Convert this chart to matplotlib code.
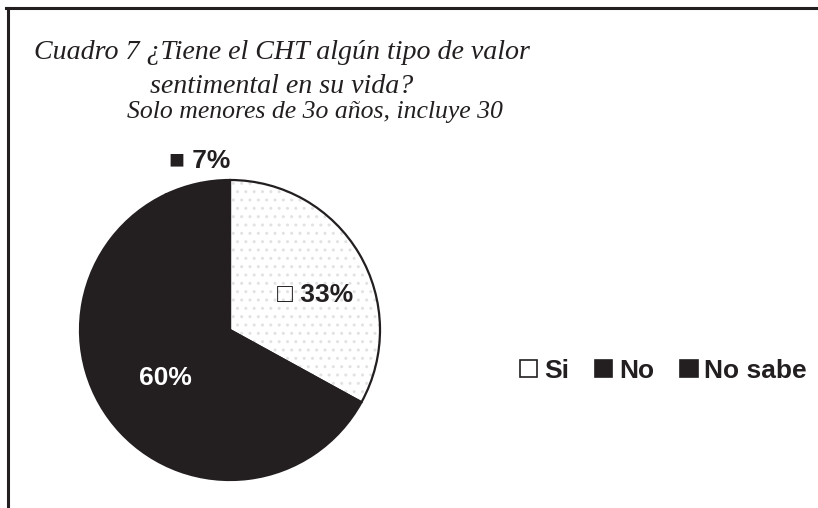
import matplotlib
matplotlib.use("Agg")
import matplotlib.pyplot as plt
from matplotlib.lines import Line2D

# data
categories = ['Si', 'No', 'No sabe']
values = [33, 60, 7]
labels = ['\u25a1 33%', '60%', '\u25a0 7%']
colors = ['white', '#231f20', '#231f20']

title1 = 'Cuadro 7 \u00bfTiene el CHT alg\u00fan tipo de valor'
title2 = 'sentimental en su vida?'
subtitle = 'Solo menores de 3o a\u00f1os, incluye 30'

W, H = 818, 508
fig = plt.figure(figsize=(W / 100, H / 100), dpi=100)
fig.patch.set_facecolor('white')

# pie axes: centre (230, 330) px, radius 150 px
cx, cy, r = 230, 330, 150
ax = fig.add_axes([(cx - r) / W, (H - cy - r) / H, 2 * r / W, 2 * r / H])

# speckled fill for "Si" wedge, then outlines on top
wedges, _ = ax.pie(values, colors=colors, startangle=90, counterclock=False,
                   wedgeprops=dict(linewidth=0, edgecolor='#e2e2e2'))
wedges[0].set_hatch('..')
wedges[0].set_linewidth(0)
outline, _ = ax.pie(values, colors=['none'] * 3, startangle=90, counterclock=False,
                    wedgeprops=dict(linewidth=1.6, edgecolor='#231f20'))
ax.set_xlim(-1, 1)
ax.set_ylim(-1, 1)
ax.set_aspect('equal')
ax.axis('off')

lab_font = ['Liberation Sans', 'DejaVu Sans']
ax.text(0.57, 0.23, labels[0], ha='center', va='center', fontsize=19,
        fontweight='bold', color='#231f20', family=lab_font)
ax.text(-0.43, -0.32, labels[1], ha='center', va='center', fontsize=19,
        fontweight='bold', color='white', family=lab_font)
ax.text(-0.2, 1.13, labels[2], ha='center', va='center', fontsize=19,
        fontweight='bold', color='#231f20', family=lab_font)

# titles
fig.text(282 / W, 1 - 59 / H, title1, ha='center', va='baseline', fontsize=20.2,
         style='italic', family='Liberation Serif', color='#231f20')
fig.text(282 / W, 1 - 93 / H, title2, ha='center', va='baseline', fontsize=20.2,
         style='italic', family='Liberation Serif', color='#231f20')
fig.text(315 / W, 1 - 118 / H, subtitle, ha='center', va='baseline', fontsize=18.5,
         style='italic', family='Liberation Serif', color='#231f20')

# legend
leg = fig.legend(outline, categories, loc='center left',
                 bbox_to_anchor=(520 / W, 1 - 371 / H), ncol=3, frameon=False,
                 prop=dict(family='Liberation Sans', weight='bold', size=19),
                 handlelength=0.65, handleheight=0.6, handletextpad=0.25,
                 columnspacing=1.0, borderpad=0, borderaxespad=0)
for h, c in zip(leg.legend_handles, colors):
    h.set_facecolor(c)
    h.set_edgecolor('#231f20')
    h.set_linewidth(1.2)
for t in leg.get_texts():
    t.set_color('#231f20')

# frame lines (top and left)
fig.add_artist(Line2D([6 / W, 1], [1 - 7.5 / H, 1 - 7.5 / H], transform=fig.transFigure,
                      color='#231f20', linewidth=2.2))
fig.add_artist(Line2D([7.5 / W, 7.5 / W], [0, 1 - 7.5 / H], transform=fig.transFigure,
                      color='#231f20', linewidth=2.2))

fig.savefig('out.png', dpi=100)
